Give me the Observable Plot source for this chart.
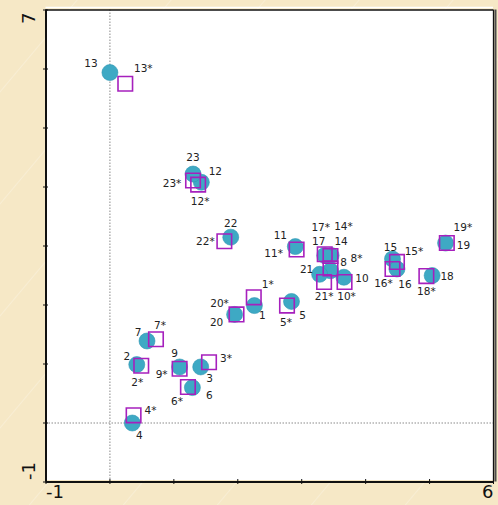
<!DOCTYPE html>
<html><head><meta charset="utf-8">
<script src="https://cdn.jsdelivr.net/npm/d3@7"></script>
<script src="https://cdn.jsdelivr.net/npm/@observablehq/plot@0.6"></script>
<style>
html,body{margin:0;padding:0;}
body{width:498px;height:505px;overflow:hidden;
background-color:#f6e8c6;
background-image:repeating-linear-gradient(-50deg, rgba(255,255,255,0) 0px, rgba(255,255,255,0) 70px, rgba(255,255,255,0.25) 71px, rgba(255,255,255,0) 72px);}
#chart svg{display:block;}
</style></head><body><div id="chart"></div>
<script>
// ---- data ----
const ids = ["1","2","3","4","5","6","7","8","9","10","11","12","13","14","15","16","17","18","19","20","21","22","23"];
const circleX = [2.26,0.42,1.42,0.35,2.84,1.29,0.58,3.45,1.09,3.66,2.90,1.43,0.00,3.46,4.42,4.49,3.36,5.04,5.25,1.95,3.28,1.89,1.30];
const circleY = [1.99,0.99,0.95,0.00,2.06,0.60,1.39,2.58,0.95,2.47,2.99,4.08,5.94,2.84,2.78,2.61,2.84,2.50,3.05,1.84,2.52,3.15,4.22];
const squareX = [2.25,0.49,1.55,0.37,2.77,1.22,0.72,3.45,1.09,3.67,2.92,1.38,0.24,3.45,4.49,4.42,3.36,4.95,5.27,1.98,3.35,1.79,1.30];
const squareY = [2.13,0.97,1.03,0.13,1.99,0.61,1.42,2.62,0.92,2.39,2.94,4.04,5.75,2.83,2.73,2.61,2.86,2.49,3.05,1.84,2.39,3.08,4.11];
const xTicks = [-1,0,1,2,3,4,5,6];
const yTicks = [-1,0,1,2,3,4,5,6,7];
const xEndLabels = ["-1","6"];
const yEndLabels = ["-1","7"];

// ---- layout (label nudges in px, [dx, dy]) ----
const circleNudge = [[8,10],[-10,-8],[9,12],[7,13],[11,14],[17,8],[-9,-8],[13,-8],[-5,-13],[18,1],[-15,-11],[14,-11],[-19,-9],[10,-14],[-2,-11],[8,16],[-6,-14],[15,1],[18,3],[-18,8],[-13,-5],[0,-14],[0,-16]];
const squareNudge = [[14,-13],[-4,17],[17,-4],[17,-5],[-1,17],[-11,15],[4,-14],[26,-10],[-18,6],[2,15],[-23,4],[2,17],[18,-15],[13,-29],[17,-10],[-9,15],[-4,-27],[0,16],[16,-15],[-17,-11],[0,15],[-19,0],[-21,3]];

const circles = ids.map((id, i) => ({label: id, x: circleX[i], y: circleY[i]}));
const squares = ids.map((id, i) => ({label: id + "*", x: squareX[i], y: squareY[i]}));

const labelStyle = {fontSize: 10.5, fill: "#222", fontFamily: "DejaVu Sans"};
const circleLabels = circles.map((d, i) => Plot.text([d], {x: "x", y: "y", text: "label", dx: circleNudge[i][0], dy: circleNudge[i][1], ...labelStyle}));
const squareLabels = squares.map((d, i) => Plot.text([d], {x: "x", y: "y", text: "label", dx: squareNudge[i][0], dy: squareNudge[i][1], ...labelStyle}));

const chart = Plot.plot({
  width: 498, height: 505,
  marginLeft: 45.5, marginRight: 5, marginTop: 9.5, marginBottom: 23.5,
  style: {background: "transparent", fontFamily: "DejaVu Sans", overflow: "visible"},
  x: {domain: [-1, 6]},
  y: {domain: [-1, 7]},
  marks: [
    Plot.frame({fill: "white", stroke: null, insetBottom: 2}),
    Plot.ruleX([0], {stroke: "#8a8a8a", strokeWidth: 1, strokeDasharray: "1.5,1.5"}),
    Plot.ruleY([0], {stroke: "#8a8a8a", strokeWidth: 1, strokeDasharray: "1.5,1.5"}),
    Plot.ruleY([7], {stroke: "white", strokeWidth: 1.5, dy: -2.5}),
    Plot.ruleX([6], {stroke: "#4d4d4d", strokeWidth: 2, dx: 2}),
    Plot.ruleY([7], {stroke: "#111", strokeWidth: 1.3}),
    Plot.ruleX([6], {stroke: "#111", strokeWidth: 1.3}),
    Plot.ruleX([-1], {stroke: "#111", strokeWidth: 2}),
    Plot.ruleY([-1], {stroke: "#111", strokeWidth: 2}),
    Plot.axisX({ticks: xTicks, tickSize: 5, dy: -2.5, tickFormat: () => "", label: null, stroke: "#111"}),
    Plot.axisY({ticks: yTicks, tickSize: 5, dx: 2.5, tickFormat: () => "", label: null, stroke: "#111"}),
    Plot.text([xEndLabels[0]], {x: d => +d, frameAnchor: "bottom", dy: 15.5, textAnchor: "start", fontSize: 18, fill: "#111"}),
    Plot.text([xEndLabels[1]], {x: d => +d, frameAnchor: "bottom", dy: 15.5, textAnchor: "end", fontSize: 18, fill: "#111"}),
    Plot.text([yEndLabels[1]], {y: d => +d, frameAnchor: "left", dx: -17, dy: 2.5, rotate: -90, textAnchor: "end", fontSize: 18, fill: "#111"}),
    Plot.text([yEndLabels[0]], {y: d => +d, frameAnchor: "left", dx: -17, dy: -2, rotate: -90, textAnchor: "start", fontSize: 18, fill: "#111"}),
    Plot.dot(circles, {x: "x", y: "y", r: 8, fill: "#3ea9c4", stroke: "#2f97b3", strokeWidth: 0.6}),
    Plot.dot(squares, {x: "x", y: "y", r: 8.2, symbol: "square", fill: "none", stroke: "#a620bd", strokeWidth: 1.6}),
    ...circleLabels,
    ...squareLabels
  ]
});
document.getElementById("chart").appendChild(chart);
</script>
</body></html>
